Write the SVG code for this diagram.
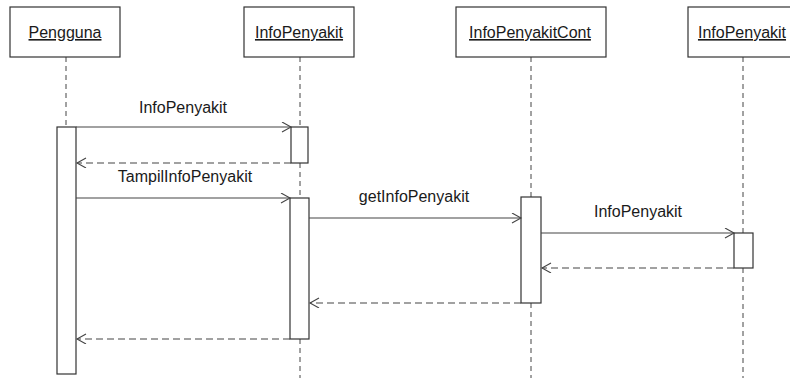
<svg xmlns="http://www.w3.org/2000/svg" width="790" height="378" viewBox="0 0 790 378">
<defs>
<style>
.box{fill:#fff;stroke:#333;stroke-width:1.2}
.act{fill:#fff;stroke:#333;stroke-width:1.2}
.life{stroke:#444;stroke-width:1;stroke-dasharray:5 4;fill:none}
.msg{stroke:#444;stroke-width:1.1;fill:none}
.ret{stroke:#444;stroke-width:1.1;fill:none;stroke-dasharray:7 4}
.hd{font-family:"Liberation Sans",Arial,sans-serif;font-size:16px;fill:#1a1a1a;text-anchor:middle;text-decoration:underline}
.lb{font-family:"Liberation Sans",Arial,sans-serif;font-size:16px;fill:#1a1a1a;text-anchor:middle}
</style>
<marker id="open" markerWidth="12" markerHeight="12" refX="10" refY="5" orient="auto" markerUnits="userSpaceOnUse">
<polyline points="1,0 10,5 1,10" fill="none" stroke="#444" stroke-width="1.1"/>
</marker>
</defs>
<rect width="790" height="378" fill="#fff"/>

<g id="lifelines">
<line class="life" x1="66" y1="57" x2="66" y2="127"/>
<line class="life" x1="300" y1="57" x2="300" y2="127"/>
<line class="life" x1="300" y1="163" x2="300" y2="198"/>
<line class="life" x1="300" y1="339" x2="300" y2="378"/>
<line class="life" x1="531" y1="57" x2="531" y2="197"/>
<line class="life" x1="531" y1="303" x2="531" y2="378"/>
<line class="life" x1="743" y1="57" x2="743" y2="233"/>
<line class="life" x1="743" y1="268" x2="743" y2="378"/>
</g>

<g id="pengguna">
<rect class="box" x="10" y="7" width="110" height="50"/>
<text class="hd" x="65" y="38">Pengguna</text>
<rect class="act" x="57" y="127" width="19" height="247"/>
</g>

<g id="infopenyakit-boundary">
<rect class="box" x="244" y="7" width="110" height="50"/>
<text class="hd" x="299" y="38">InfoPenyakit</text>
<rect class="act" x="291" y="127" width="17" height="36"/>
<rect class="act" x="290" y="198" width="19" height="141"/>
</g>

<g id="infopenyakitcont">
<rect class="box" x="456" y="7" width="150" height="50"/>
<text class="hd" x="530" y="38">InfoPenyakitCont</text>
<rect class="act" x="521" y="197" width="20" height="106"/>
</g>

<g id="infopenyakit-entity">
<rect class="box" x="688" y="7" width="110" height="50"/>
<text class="hd" x="742" y="38">InfoPenyakit</text>
<rect class="act" x="734" y="233" width="19" height="35"/>
</g>

<g id="connectors">
<line class="msg" x1="76" y1="127" x2="291" y2="127" marker-end="url(#open)"/>
<text class="lb" x="183" y="113">InfoPenyakit</text>
<line class="ret" x1="291" y1="163" x2="77" y2="163" marker-end="url(#open)"/>
<text class="lb" x="185" y="182">TampilInfoPenyakit</text>
<line class="msg" x1="76" y1="198" x2="290" y2="198" marker-end="url(#open)"/>
<line class="msg" x1="309" y1="218" x2="521" y2="218" marker-end="url(#open)"/>
<text class="lb" x="414" y="202">getInfoPenyakit</text>
<line class="msg" x1="541" y1="233" x2="734" y2="233" marker-end="url(#open)"/>
<text class="lb" x="638" y="217">InfoPenyakit</text>
<line class="ret" x1="734" y1="268" x2="542" y2="268" marker-end="url(#open)"/>
<line class="ret" x1="521" y1="303" x2="310" y2="303" marker-end="url(#open)"/>
<line class="ret" x1="290" y1="339" x2="77" y2="339" marker-end="url(#open)"/>
</g>
</svg>
